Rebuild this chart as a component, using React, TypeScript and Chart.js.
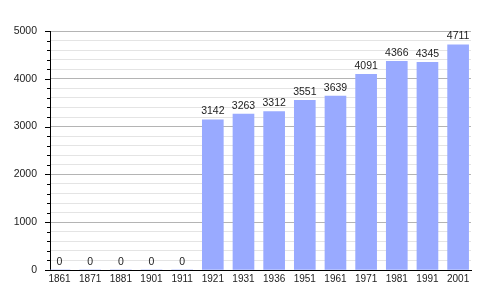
import React, { useEffect, useRef } from "react";
import { Chart, registerables } from "chart.js";

Chart.register(...registerables);

const years = ["1861", "1871", "1881", "1901", "1911", "1921", "1931", "1936", "1951", "1961", "1971", "1981", "1991", "2001"];
const population = [0, 0, 0, 0, 0, 3142, 3263, 3312, 3551, 3639, 4091, 4366, 4345, 4711];
const yMax = 5000;
const yMinorStep = 200;
const yMajorStep = 1000;

const FONT = "'Liberation Sans', Arial, sans-serif";

export default function App() {
  const ref = useRef<HTMLCanvasElement>(null);
  useEffect(() => {
    document.body.style.margin = "0";
    const canvas = ref.current!;
    const labelPlugin = {
      id: "labels",
      afterDatasetsDraw(chart: any) {
        const ctx = chart.ctx;
        const meta = chart.getDatasetMeta(0);
        ctx.save();
        ctx.font = `10.5px ${FONT}`;
        ctx.fillStyle = "#222";
        ctx.textAlign = "center";
        ctx.textBaseline = "bottom";
        meta.data.forEach((el: any, i: number) => {
          ctx.fillText(String(population[i]), el.x, el.y - 3);
        });
        ctx.restore();
      },
    };
    const ticksPlugin = {
      id: "yticks",
      afterDraw(chart: any) {
        const ctx = chart.ctx;
        const y = chart.scales.y;
        const left = chart.chartArea.left;
        ctx.save();
        ctx.strokeStyle = "#000";
        ctx.lineWidth = 1;
        for (let v = 0; v <= yMax; v += yMinorStep) {
          const py = Math.round(y.getPixelForValue(v)) + 0.5;
          const len = v % yMajorStep === 0 ? 5 : 3;
          ctx.beginPath();
          ctx.moveTo(left - len, py);
          ctx.lineTo(left, py);
          ctx.stroke();
        }
        ctx.restore();
      },
    };
    const chart = new Chart(canvas, {
      type: "bar",
      data: {
        datasets: [
          {
            data: population.map((v, i) => ({ x: i, y: v })),
            backgroundColor: "#99aaff",
            barThickness: 21,
          },
        ],
      },
      options: {
        animation: false,
        responsive: false,
        layout: { padding: { top: 31, right: 29, left: 0, bottom: 0 } },
        plugins: { legend: { display: false }, tooltip: { enabled: false } },
        scales: {
          x: {
            type: "linear",
            offset: false,
            min: -0.31,
            max: 13.42,
            afterBuildTicks: (scale: any) => {
              scale.ticks = years.map((_, i) => ({ value: i }));
            },
            afterFit: (scale: any) => {
              scale.height = 30;
            },
            grid: { display: false, drawTicks: false },
            border: { display: true, color: "#000", width: 1 },
            ticks: {
              autoSkip: false,
              maxRotation: 0,
              padding: 3,
              color: "#222",
              font: { family: FONT, size: 10 },
              callback: (v: any) => years[Math.round(Number(v))] ?? "",
            },
          },
          y: {
            min: 0,
            max: yMax,
            afterFit: (scale: any) => {
              scale.width = 50;
            },
            grid: {
              drawTicks: false,
              color: (c: any) => (c.tick && c.tick.value % yMajorStep === 0 ? "#b4b4b4" : "#e4e4e4"),
            },
            border: { display: true, color: "#000", width: 1 },
            ticks: {
              stepSize: yMinorStep,
              autoSkip: false,
              padding: 13,
              color: "#222",
              font: { family: FONT, size: 10.5 },
              callback: (v: any) => (Number(v) % yMajorStep === 0 ? String(v) : ""),
            },
          },
        },
      },
      plugins: [labelPlugin, ticksPlugin],
    });
    return () => chart.destroy();
  }, []);
  return <canvas ref={ref} width={500} height={300} style={{ display: "block" }} />;
}
